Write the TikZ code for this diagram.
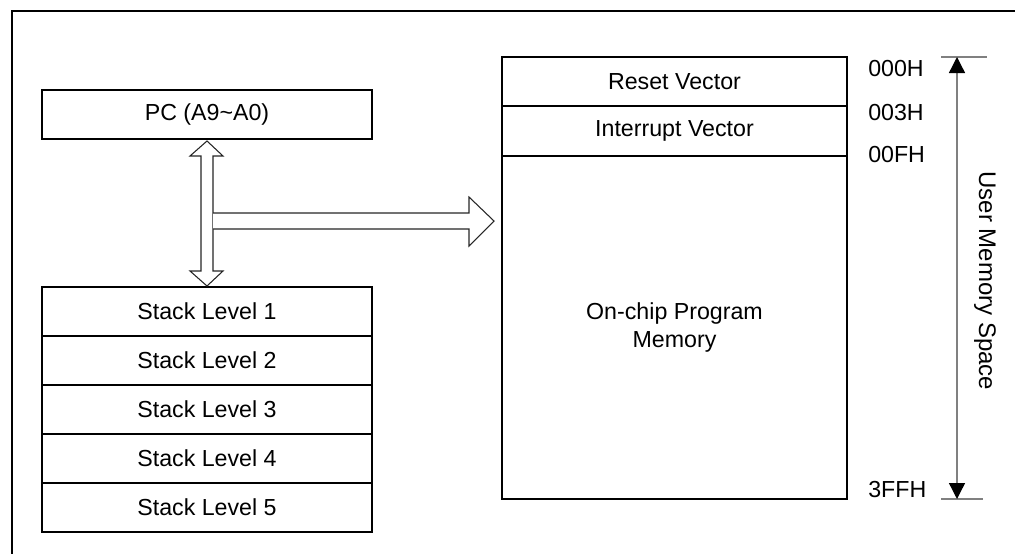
\documentclass[tikz,border=0pt]{standalone}
\usepackage{fontspec}
\setmainfont{Liberation Sans}
\usetikzlibrary{calc,arrows.meta}
\begin{document}
\begin{tikzpicture}[x=0.75pt,y=-0.75pt,
  font=\fontsize{17.4}{20.5}\selectfont,
  box/.style={draw=black, line width=1.3pt, inner sep=0pt, outer sep=0pt, minimum width=#1*0.75pt},
  box/.default=330,
  frame/.style={draw=black, line width=1.1pt},
  blockarrow/.style={draw=black!85, line width=0.8pt, fill=white, line join=miter},
  dimline/.style={draw=black!50, line width=1pt},
  addr/.style={anchor=west, inner sep=0pt}]
\useasboundingbox (0,0) rectangle (1015,554);
\draw[frame] (1015,11) -- (12,11) -- (12,554);

% left boxes
\node[box, minimum height=49*0.75pt] (pc) at (207,114.5) {PC (A9\textasciitilde A0)};
\node[box, minimum height=49*0.75pt] (s1) at (207,311.5) {Stack Level 1};
\node[box, minimum height=49*0.75pt] (s2) at (207,360.5) {Stack Level 2};
\node[box, minimum height=49*0.75pt] (s3) at (207,409.5) {Stack Level 3};
\node[box, minimum height=49*0.75pt] (s4) at (207,458.5) {Stack Level 4};
\node[box, minimum height=49*0.75pt] (s5) at (207,507.5) {Stack Level 5};

% memory map
\node[box=345, minimum height=49*0.75pt] (rv) at (674.5,81.5) {Reset Vector};
\node[box=345, minimum height=50*0.75pt] (iv) at (674.5,131) {Interrupt Vector};
\node[box=345, minimum height=343*0.75pt, align=center] (pm) at (674.5,327.5) {On-chip Program\\Memory};

% addresses
\node[addr] (a0) at (868,68.5) {000H};
\node[addr] (a1) at (868,112.5) {003H};
\node[addr] (a2) at (868,154.5) {00FH};
\node[addr] (a3) at (868,490) {3FFH};

% double block arrow
\coordinate (vt) at ($(pc.south)+(0,2)$);
\coordinate (vb) at ($(s1.north)+(0,-1)$);
\filldraw[blockarrow] (vt) -- ($(vt)+(16,15)$) -- ($(vt)+(6,15)$) -- ($(vb)+(6,-15)$) -- ($(vb)+(16,-15)$)
  -- (vb) -- ($(vb)+(-17,-15)$) -- ($(vb)+(-6,-15)$) -- ($(vt)+(-6,15)$) -- ($(vt)+(-17,15)$) -- cycle;

% horizontal block arrow
\coordinate (ht) at ($(iv.south west)+(-8,65)$);
\filldraw[blockarrow] ($(vt)+(6,72)$) -- ($(ht)+(-25,-8)$) -- ($(ht)+(-25,-24)$) -- (ht)
  -- ($(ht)+(-25,25)$) -- ($(ht)+(-25,8)$) -- ($(vt)+(6,88)$);

% user memory space dimension
\coordinate (dt) at (957,57);
\coordinate (db) at (957,499);
\draw[dimline] ($(dt)+(-16,0)$) -- ($(dt)+(30,0)$);
\draw[dimline] ($(db)+(-16,0)$) -- ($(db)+(26,0)$);
\draw[dimline, {Triangle[fill=black, color=black, length=16*0.75pt, width=16*0.75pt]}-{Triangle[fill=black, color=black, length=16*0.75pt, width=16*0.75pt]}] (dt) -- (db);
\node[rotate=-90, font=\fontsize{18}{20}\selectfont] (ums) at (985,281) {User Memory Space};
\end{tikzpicture}
\end{document}
